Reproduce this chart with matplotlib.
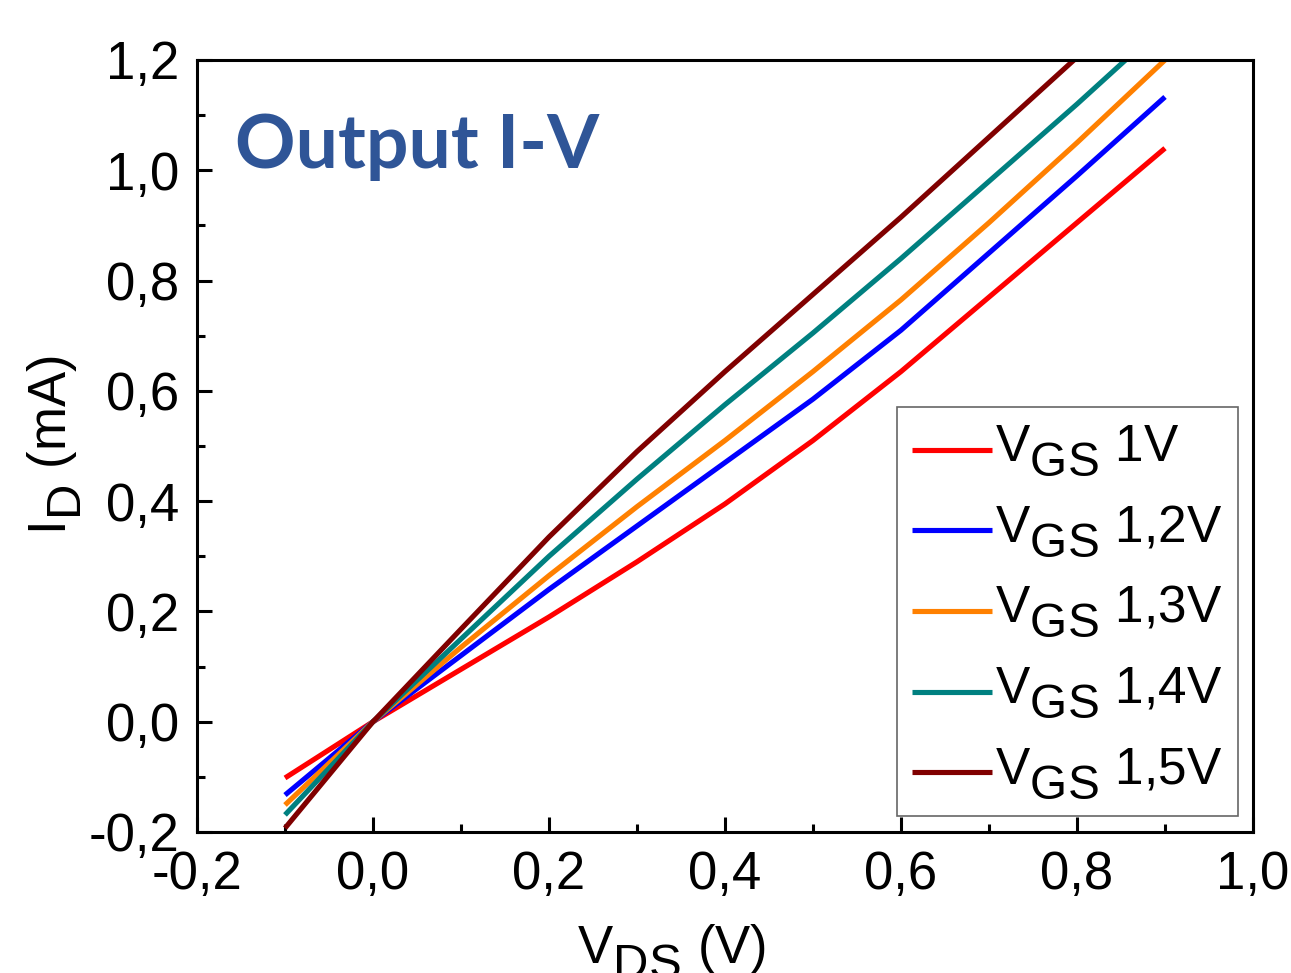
import matplotlib
matplotlib.use("Agg")
import matplotlib.pyplot as plt
from matplotlib.ticker import FuncFormatter, MultipleLocator

plt.rcParams['font.family'] = ['Liberation Sans', 'DejaVu Sans']
plt.rcParams['mathtext.fontset'] = 'custom'
plt.rcParams['mathtext.rm'] = 'Liberation Sans'
plt.rcParams['mathtext.it'] = 'Liberation Sans'
plt.rcParams['mathtext.default'] = 'regular'

# The reference uses near full-size, strongly lowered subscripts.
try:
    import matplotlib._mathtext as _mt
    _mt.SHRINK_FACTOR = 0.93
    _mt.FontConstantsBase.sub1 = 0.55
except Exception:
    pass

vds = [-0.1, 0.0, 0.1, 0.2, 0.3, 0.4, 0.5, 0.6, 0.7, 0.8, 0.9]
id_1v0 = [-0.102, 0.0, 0.095, 0.19, 0.29, 0.395, 0.51, 0.635, 0.77, 0.905, 1.04]
id_1v2 = [-0.133, 0.0, 0.12, 0.24, 0.355, 0.47, 0.585, 0.71, 0.85, 0.99, 1.133]
id_1v3 = [-0.151, 0.0, 0.135, 0.265, 0.39, 0.51, 0.635, 0.765, 0.905, 1.05, 1.20]
id_1v4 = [-0.169, 0.0, 0.15, 0.30, 0.44, 0.575, 0.705, 0.84, 0.98, 1.12, 1.265]
id_1v5 = [-0.193, 0.0, 0.168, 0.335, 0.49, 0.635, 0.775, 0.915, 1.06, 1.205, 1.35]

series = [id_1v0, id_1v2, id_1v3, id_1v4, id_1v5]
vgs_labels = ['1V', '1,2V', '1,3V', '1,4V', '1,5V']
colors = ['#ff0000', '#0000ff', '#ff8000', '#008080', '#800000']

W, H = 1291, 973
fig = plt.figure(figsize=(W / 100, H / 100), dpi=100)
ax = fig.add_axes([197 / W, 1 - 832 / H, (1253 - 197) / W, (832 - 60) / H])

for y, lab, c in zip(series, vgs_labels, colors):
    ax.plot(vds, y, color=c, lw=3.7, label=r'V$_{GS}$ ' + lab, solid_capstyle='butt')

ax.set_xlim(-0.2, 1.0)
ax.set_ylim(-0.2, 1.2)
ax.xaxis.set_major_locator(MultipleLocator(0.2))
ax.xaxis.set_minor_locator(MultipleLocator(0.1))
ax.yaxis.set_major_locator(MultipleLocator(0.2))
ax.yaxis.set_minor_locator(MultipleLocator(0.1))
fmt = FuncFormatter(lambda v, p: ('%.1f' % v).replace('.', ',').replace('-0,0', '0,0'))
ax.xaxis.set_major_formatter(fmt)
ax.yaxis.set_major_formatter(fmt)
ax.tick_params(axis='both', which='major', direction='in', length=11, width=2.2,
               labelsize=38, pad=13, top=False, right=False)
ax.tick_params(axis='both', which='minor', direction='in', length=5.5, width=2.2,
               top=False, right=False)
for s in ax.spines.values():
    s.set_linewidth(2.2)

# axis labels (the bottom one is cut by the figure edge, as in the reference)
fig.text(577 / W, 1 - 963 / H, r'V$_{DS}$ (V)', fontsize=38, ha='left', va='baseline')
fig.text(67 / W, 1 - 445 / H, r'I$_{D}$ (mA)', fontsize=38, ha='center', va='baseline',
         rotation=90, rotation_mode='anchor')

ax.text(0.036, 0.888, 'Output I-V', transform=ax.transAxes, fontsize=54,
        fontweight='bold', family=['Lato', 'DejaVu Sans'], color='#2F5597',
        ha='left', va='center')

leg = ax.legend(loc='lower right', bbox_to_anchor=((1238 - 197) / 1056, (832 - 816) / 772),
                fontsize=37, frameon=True, fancybox=False, edgecolor='#404040',
                handlelength=1.56, handletextpad=0.06, labelspacing=0.49,
                handleheight=-0.2, borderpad=0.3, borderaxespad=0)
leg.get_frame().set_linewidth(1.2)
for l in leg.get_lines():
    l.set_linewidth(3.7)

fig.savefig('out.png', dpi=100)
